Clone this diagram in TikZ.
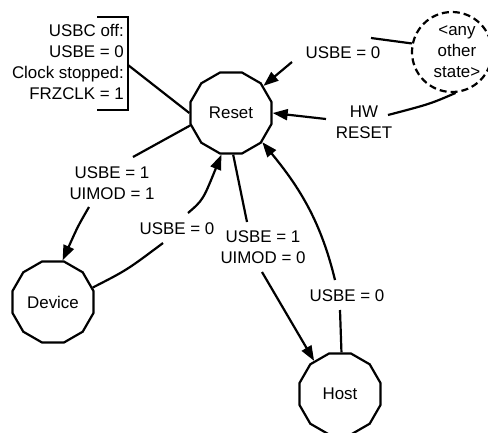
\documentclass[tikz,border=0pt]{standalone}
\usepackage{fontspec}
\setmainfont{Liberation Sans}
\usetikzlibrary{shapes.geometric,arrows.meta}
\begin{document}
\begin{tikzpicture}[x=1pt,y=-1pt,
  every node/.style={font=\fontsize{16.9}{21}\selectfont},
  state/.style={draw,regular polygon,regular polygon sides=12,minimum size=84pt,inner sep=0pt,line width=2.2pt},
  lbl/.style={align=center,inner sep=0pt},
  conn/.style={line width=2.2pt},
  arr/.style={conn,-{Triangle[length=15pt,width=11pt]}}]
\useasboundingbox (0,0) rectangle (488,432);

% states
\node[state] (reset) at (231,113) {Reset};
\node[state] (device) at (53,302) {Device};
\node[state] (host) at (340,394) {Host};
\node[draw,circle,line width=2.2pt,dash pattern=on 7pt off 4pt,minimum size=80pt,inner sep=0pt] (other) at (452,52) {};
\node[lbl] (othertxt) at (457,52) {<any\\other\\state>};

% condition note with bracket
\node[lbl,align=right,anchor=east] (cond) at (124,62) {USBC off:\\USBE = 0\\Clock stopped:\\FRZCLK = 1};
\draw[conn] (97,17) -- (128,17) -- (128,110) -- (97,110);
\coordinate (brk) at (128,65);
\draw[conn] (brk) -- (reset.west);

% labels
\node[lbl] (l1) at (343,53) {USBE = 0};
\node[lbl] (l2) at (364,122) {HW\\RESET};
\node[lbl] (l3) at (112,183) {USBE = 1\\UIMOD = 1};
\node[lbl] (l4) at (177,229) {USBE = 0};
\node[lbl] (l5) at (263,247) {USBE = 1\\UIMOD = 0};
\node[lbl] (l6) at (347,296) {USBE = 0};

% connectors
\coordinate (a1) at (371,38);  \coordinate (a2) at (292,62);
\draw[arr] (other.168) -- (a1) (a2) -- (reset);

\coordinate (b1) at (388,115); \coordinate (b2) at (326,119);
\draw[arr] (other.-85) .. controls (430,104) .. (b1) (b2) -- (reset.east);

\coordinate (c1) at (133,157); \coordinate (c2) at (89,207);
\draw[arr] (reset.197) -- (c1) (c2) .. controls (78,226) .. (device.77);

\coordinate (d1) at (163,243); \coordinate (d2) at (188,213);
\draw[arr] (device.20) .. controls (127,270) .. (d1) (d2) .. controls (203,200) .. (reset.257);

\coordinate (e1) at (247,222); \coordinate (e2) at (262,272);
\draw[arr] (reset.273) -- (e1) (e2) -- (host.128);

\coordinate (f1) at (340,310); \coordinate (f2) at (335,280);
\draw[arr] (host.88) -- (f1) (f2) .. controls (321,222) and (300,188) .. (reset.317);
\end{tikzpicture}
\end{document}
